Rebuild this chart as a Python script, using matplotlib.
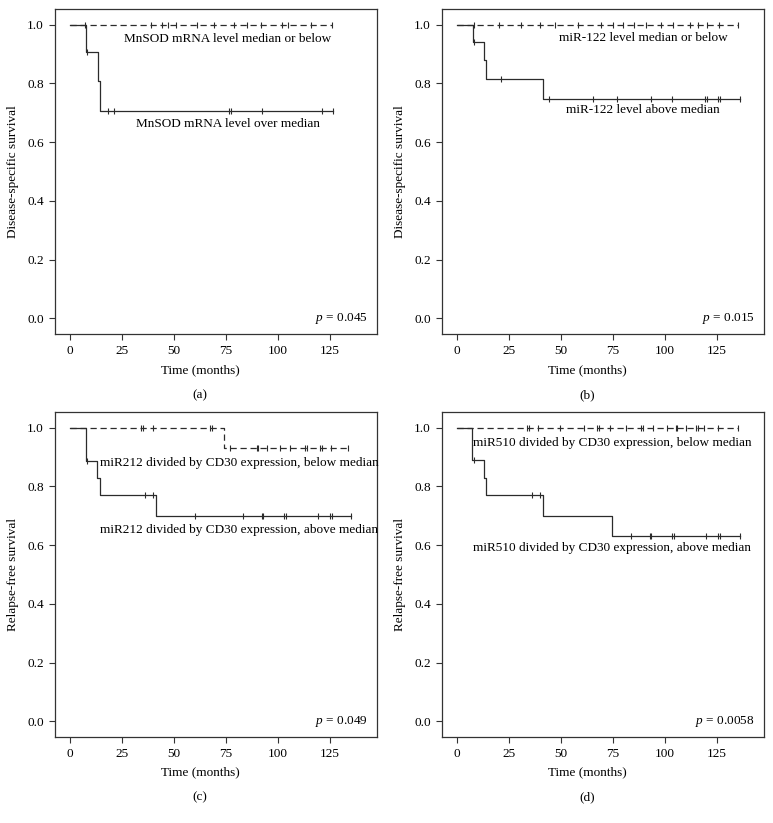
import numpy as np
import matplotlib
matplotlib.use("Agg")
import matplotlib.pyplot as plt

plt.rcParams['font.family'] = ['Liberation Serif', 'DejaVu Serif']
plt.rcParams['mathtext.fontset'] = 'custom'
plt.rcParams['mathtext.rm'] = 'Liberation Serif'
plt.rcParams['mathtext.it'] = 'Liberation Serif:italic'

# panel (a): MnSOD mRNA
a_low_censor = [7, 39, 44, 47, 51, 61, 69, 79, 85, 92, 102, 105, 116, 126]
a_high_times = [7.7, 13.5, 14.2]
a_high_surv = [0.908, 0.807, 0.707]
a_high_censor = [8.2, 18.4, 21.3, 76.6, 77.3, 92.4, 121.3, 126.3]

# panel (b): miR-122
b_low_censor = [8, 20, 31, 40, 47, 58, 69, 75, 80, 85, 91, 98, 104, 112, 116, 120, 126, 135]
b_high_times = [7.6, 13.2, 14.0, 41.2]
b_high_surv = [0.940, 0.878, 0.816, 0.747]
b_high_censor = [8.2, 21.1, 44.3, 65.5, 77.1, 93.3, 103.3, 119.4, 120.2, 125.3, 126.3, 136]

# panel (c): miR212 / CD30
c_low_times = [74]
c_low_surv = [0.931]
c_low_censor = [34.1, 35.3, 39.8, 67.3, 68.1, 77, 89.7, 90.5, 94.9, 101, 105.8,
                113, 113.8, 120.2, 121, 125.3, 133.5]
c_high_times = [7.5, 12.8, 14.4, 41.3]
c_high_surv = [0.886, 0.829, 0.769, 0.699]
c_high_censor = [8.2, 36, 40, 60, 83, 92.1, 92.9, 103, 103.8, 119, 125, 125.8, 135]

# panel (d): miR510 / CD30
d_low_censor = [33.6, 34.8, 38.8, 49.7, 61, 67.4, 68.5, 73.8, 81.1, 88.3, 89.4, 94,
                101.2, 105.2, 106, 110, 114.9, 116, 118.9, 125.3, 135]
d_high_times = [7.1, 13.2, 14.0, 41.2, 74.5]
d_high_surv = [0.888, 0.829, 0.769, 0.699, 0.632]
d_high_censor = [8.2, 36, 40.1, 83.5, 92.7, 93.1, 103.6, 104.1, 119.7, 125.3, 126.3, 136]

LINE = '#2b2b2b'
DASH = (0, (5, 3))


def km_curve(ax, times, surv, censor, ls):
    end = max(list(times) + list(censor))
    xs = [0] + list(times) + [end]
    ys = [1.0] + list(surv) + [surv[-1] if len(surv) else 1.0]
    ax.step(xs, ys, where='post', color=LINE, lw=0.9, ls=ls)
    t = np.array(times, dtype=float)
    lv = np.array([1.0] + list(surv))
    cy = [lv[np.searchsorted(t, c, side='right')] for c in censor]
    ax.plot(censor, cy, ls='none', marker='|', ms=5, mew=0.8, color=LINE)


def setup(ax, ylabel, pval):
    ax.set_xlim(-7.2, 147.6)
    ax.set_ylim(-0.053, 1.053)
    ax.set_xticks([0, 25, 50, 75, 100, 125])
    ax.set_yticks([0.0, 0.2, 0.4, 0.6, 0.8, 1.0])
    ax.set_yticklabels(['0.0', '0.2', '0.4', '0.6', '0.8', '1.0'])
    ax.tick_params(labelsize=9.5, length=4, width=0.8, color='#333333', pad=4)
    for s in ax.spines.values():
        s.set_linewidth(0.9)
        s.set_color('#333333')
    ax.set_ylabel(ylabel, fontsize=9.5, labelpad=6)
    ax.text(143, 0.0, '$p$ = ' + pval, ha='right', va='center', fontsize=9.5)


fig = plt.figure(figsize=(7.73, 8.23), dpi=100)
W, H = 773, 823


def add_axes(left, right, top, bottom):
    return fig.add_axes([left / W, 1 - bottom / H, (right - left) / W, (bottom - top) / H])


ax_a = add_axes(55, 377, 9, 334)
ax_b = add_axes(442, 764, 9, 334)
ax_c = add_axes(55, 377, 412, 737)
ax_d = add_axes(442, 764, 412, 737)

# (a)
km_curve(ax_a, [], [], a_low_censor, DASH)
km_curve(ax_a, a_high_times, a_high_surv, a_high_censor, '-')
setup(ax_a, 'Disease-specific survival', '0.045')
ax_a.text(76, 0.951, 'MnSOD mRNA level median or below', ha='center', va='center', fontsize=9.5)
ax_a.text(76.2, 0.661, 'MnSOD mRNA level over median', ha='center', va='center', fontsize=9.5)

# (b)
km_curve(ax_b, [], [], b_low_censor, DASH)
km_curve(ax_b, b_high_times, b_high_surv, b_high_censor, '-')
setup(ax_b, 'Disease-specific survival', '0.015')
ax_b.text(89.6, 0.955, 'miR-122 level median or below', ha='center', va='center', fontsize=9.5)
ax_b.text(89.6, 0.708, 'miR-122 level above median', ha='center', va='center', fontsize=9.5)

# (c)
km_curve(ax_c, c_low_times, c_low_surv, c_low_censor, DASH)
km_curve(ax_c, c_high_times, c_high_surv, c_high_censor, '-')
setup(ax_c, 'Relapse-free survival', '0.049')
ax_c.text(14.4, 0.88, 'miR212 divided by CD30 expression, below median', ha='left', va='center', fontsize=9.5)
ax_c.text(14.4, 0.651, 'miR212 divided by CD30 expression, above median', ha='left', va='center', fontsize=9.5)

# (d)
km_curve(ax_d, [], [], d_low_censor, DASH)
km_curve(ax_d, d_high_times, d_high_surv, d_high_censor, '-')
setup(ax_d, 'Relapse-free survival', '0.0058')
ax_d.text(7.6, 0.947, 'miR510 divided by CD30 expression, below median', ha='left', va='center', fontsize=9.5)
ax_d.text(7.6, 0.591, 'miR510 divided by CD30 expression, above median', ha='left', va='center', fontsize=9.5)

for x, ytime, ylab, lab in [(200, 370, 395, '(a)'), (587, 370, 395, '(b)'),
                            (200, 772, 797, '(c)'), (587, 772, 797, '(d)')]:
    fig.text(x / W, 1 - ytime / H, 'Time (months)', ha='center', va='center', fontsize=9.5)
    fig.text(x / W, 1 - ylab / H, lab, ha='center', va='center', fontsize=9.5)

fig.savefig('out.png', dpi=100)
